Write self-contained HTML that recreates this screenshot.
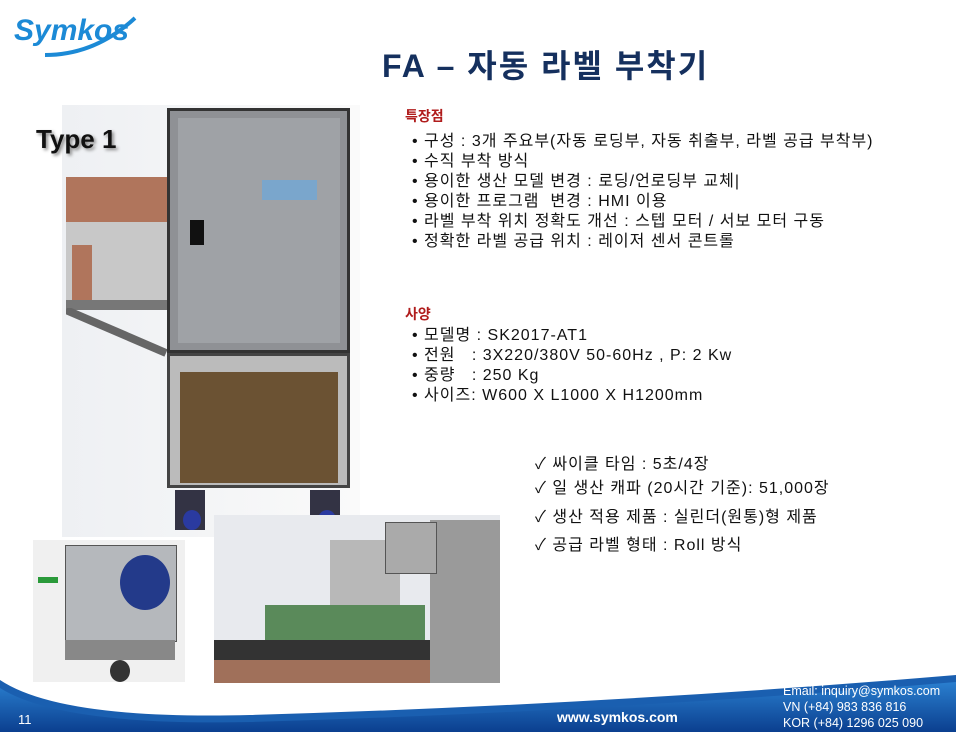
<!DOCTYPE html>
<html><head><meta charset="utf-8"><style>
body{margin:0;width:956px;height:732px;overflow:hidden;background:#fff;position:relative;font-family:"Liberation Sans","Noto Sans CJK KR",sans-serif;}
.a{position:absolute;}
.t{position:absolute;font-size:16px;letter-spacing:1px;color:#111;white-space:nowrap;line-height:20px;}
.h{position:absolute;font-size:14px;color:#b01c1c;font-weight:bold;}
</style></head><body>
<!-- logo -->
<div class="a" style="left:14px;top:14px;font-size:30px;font-weight:bold;font-style:italic;color:#1c8ad6;font-family:'Liberation Sans',sans-serif;">Symkos</div>
<svg class="a" style="left:35px;top:10px" width="110" height="50"><path d="M10 45 Q60 45 100 8" stroke="#1c8ad6" stroke-width="4" fill="none"/></svg>
<div class="a" style="left:382px;top:41px;font-size:32px;letter-spacing:2px;font-weight:bold;color:#15305e;white-space:nowrap;">FA – 자동 라벨 부착기</div>

<!-- main machine picture -->
<div class="a" style="left:62px;top:105px;width:298px;height:432px;background:linear-gradient(90deg,#eef0f3,#fafafa);"></div>
<div class="a" style="left:36px;top:124px;font-size:26px;font-weight:bold;color:#111;text-shadow:2px 2px 3px #888;">Type 1</div>
<div class="a" style="left:66px;top:177px;width:102px;height:45px;background:#b0755c;"></div>
<div class="a" style="left:66px;top:222px;width:102px;height:80px;background:#c8c8c8;"></div>
<div class="a" style="left:72px;top:245px;width:20px;height:55px;background:#b0755c;"></div>
<div class="a" style="left:66px;top:300px;width:102px;height:10px;background:#777;"></div>
<svg class="a" style="left:66px;top:308px" width="102" height="50"><path d="M0 2 L100 45" stroke="#666" stroke-width="8"/></svg>
<div class="a" style="left:167px;top:108px;width:183px;height:245px;background:#8f9195;border:3px solid #333;box-sizing:border-box;"></div>
<div class="a" style="left:178px;top:118px;width:162px;height:225px;background:#9fa2a6;"></div>
<div class="a" style="left:262px;top:180px;width:55px;height:20px;background:#7aa6cc;"></div>
<div class="a" style="left:190px;top:220px;width:14px;height:25px;background:#111;"></div>
<div class="a" style="left:167px;top:353px;width:183px;height:135px;background:#bbb;border:3px solid #444;box-sizing:border-box;"></div>
<div class="a" style="left:180px;top:372px;width:158px;height:111px;background:#6b5233;"></div>
<div class="a" style="left:175px;top:490px;width:30px;height:40px;background:#334;"></div>
<div class="a" style="left:310px;top:490px;width:30px;height:40px;background:#334;"></div>
<div class="a" style="left:183px;top:510px;width:18px;height:20px;background:#2a3aa0;border-radius:50%;"></div>
<div class="a" style="left:318px;top:510px;width:18px;height:20px;background:#2a3aa0;border-radius:50%;"></div>

<!-- bottom-left picture -->
<div class="a" style="left:33px;top:540px;width:152px;height:142px;background:#f0f0f0;"></div>
<div class="a" style="left:65px;top:545px;width:110px;height:95px;background:#b5b8bc;border:1px solid #555;"></div>
<div class="a" style="left:120px;top:555px;width:50px;height:55px;background:#233a8a;border-radius:50%;"></div>
<div class="a" style="left:65px;top:640px;width:110px;height:20px;background:#888;"></div>
<div class="a" style="left:110px;top:660px;width:20px;height:22px;background:#333;border-radius:50%;"></div>
<div class="a" style="left:38px;top:577px;width:20px;height:6px;background:#2a9a3a;"></div>

<!-- middle picture -->
<div class="a" style="left:214px;top:515px;width:286px;height:168px;background:#e8eaee;"></div>
<div class="a" style="left:430px;top:520px;width:70px;height:163px;background:#9a9a9a;"></div>
<div class="a" style="left:330px;top:540px;width:70px;height:90px;background:#b8b8b8;"></div>
<div class="a" style="left:385px;top:522px;width:50px;height:50px;background:#aaa;border:1px solid #555;"></div>
<div class="a" style="left:265px;top:605px;width:160px;height:35px;background:#5a8a5a;"></div>
<div class="a" style="left:214px;top:640px;width:216px;height:20px;background:#333;"></div>
<div class="a" style="left:214px;top:660px;width:216px;height:23px;background:#a0705a;"></div>

<!-- text -->
<div class="h" style="left:405px;top:106px;">특장점</div>
<div class="t" style="left:412px;top:132px;">• 구성 : 3개 주요부(자동 로딩부, 자동 취출부, 라벨 공급 부착부)<br>• 수직 부착 방식<br>• 용이한 생산 모델 변경 : 로딩/언로딩부 교체|<br>• 용이한 프로그램&nbsp; 변경 : HMI 이용<br>• 라벨 부착 위치 정확도 개선 : 스텝 모터 / 서보 모터 구동<br>• 정확한 라벨 공급 위치 : 레이저 센서 콘트롤</div>
<div class="h" style="left:405px;top:304px;">사양</div>
<div class="t" style="left:412px;top:326px;">• 모델명 : SK2017-AT1<br>• 전원&nbsp;&nbsp; : 3X220/380V 50-60Hz , P: 2 Kw<br>• 중량&nbsp;&nbsp; : 250 Kg<br>• 사이즈: W600 X L1000 X H1200mm</div>
<div class="t" style="left:535px;top:455px;">✓ 싸이클 타임 : 5초/4장</div>
<div class="t" style="left:535px;top:479px;">✓ 일 생산 캐파 (20시간 기준): 51,000장</div>
<div class="t" style="left:535px;top:508px;">✓ 생산 적용 제품 : 실린더(원통)형 제품</div>
<div class="t" style="left:535px;top:536px;">✓ 공급 라벨 형태 : Roll 방식</div>

<!-- footer wave -->
<svg class="a" style="left:0;top:660px" width="956" height="72">
<defs><linearGradient id="g" x1="0" y1="0" x2="0" y2="1"><stop offset="0" stop-color="#2a7fcf"/><stop offset="1" stop-color="#0b3f8f"/></linearGradient></defs>
<path d="M0 20 Q60 60 250 55 Q600 45 956 15 L956 72 L0 72 Z" fill="#1a5fb0"/>
<path d="M0 28 Q60 66 250 62 Q600 52 956 22 L956 72 L0 72 Z" fill="url(#g)"/>
</svg>
<div class="a" style="left:18px;top:712px;font-size:13px;color:#fff;">11</div>
<div class="a" style="left:557px;top:709px;font-size:14px;font-weight:bold;color:#fff;">www.symkos.com</div>
<div class="a" style="left:783px;top:683px;font-size:12.5px;color:#fff;line-height:16px;white-space:nowrap;">Email: inquiry@symkos.com<br>VN (+84) 983 836 816<br>KOR (+84) 1296 025 090</div>
</body></html>
